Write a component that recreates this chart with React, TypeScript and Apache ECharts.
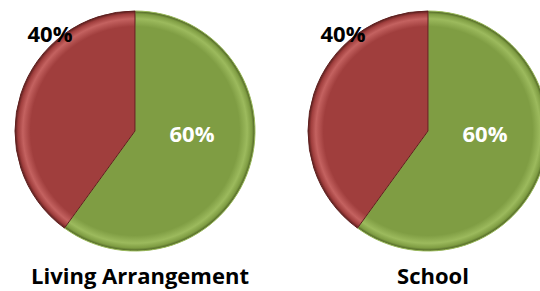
import React, { useEffect, useRef } from "react";
import * as echarts from "echarts";

const categories = ["Yes", "No"];
const livingValues = [60, 40];
const schoolValues = [60, 40];
const chartTitles = ["Living Arrangement", "School"];

const FONT = "'Open Sans', 'Liberation Sans', sans-serif";

function grad(cx: number, cy: number, r: number, base: string, hi: string, dark: string) {
  return new echarts.graphic.RadialGradient(cx, cy, r, [
    { offset: 0, color: base },
    { offset: 0.87, color: base },
    { offset: 0.935, color: hi },
    { offset: 0.975, color: base },
    { offset: 1, color: dark },
  ], true);
}

export default function App() {
  const ref = useRef<HTMLDivElement>(null);
  useEffect(() => {
    document.body.style.margin = "0";
    const chart = echarts.init(ref.current!, undefined, { renderer: "svg" });
    const R = 120;
    const centers = [
      [135, 131],
      [428, 131],
    ];
    const valuesList = [livingValues, schoolValues];
    const series = centers.map((c, si) => ({
      type: "pie",
      center: c,
      radius: [0, R],
      startAngle: 90,
      clockwise: true,
      silent: true,
      avoidLabelOverlap: false,
      labelLine: { show: false },
      labelLayout: (p: any) =>
        p.dataIndex === 1
          ? { x: c[0] - 85, y: 33, align: "center", verticalAlign: "middle", hideOverlap: false }
          : { x: c[0] + 57, y: c[1] + 2, align: "center", verticalAlign: "middle", hideOverlap: false },
      data: valuesList[si].map((v, i) => ({
        name: categories[i],
        value: v,
        itemStyle: {
          color:
            i === 0
              ? grad(c[0], c[1], R, "#7F9D43", "#9CBA5D", "#4A5E22")
              : grad(c[0], c[1], R, "#A03E3D", "#C46260", "#5A1E1D"),
          borderColor: i === 0 ? "#9ABA5A" : "#5E1F1E",
          borderWidth: 1,
        },
        label: {
          show: true,
          position: "inside",
          formatter: "{d}%",
          color: i === 0 ? "#FFFFFF" : "#000000",
          fontFamily: FONT,
          fontWeight: "bold",
          fontSize: 22,
        },
      })),
    }));
    chart.setOption({
      animation: false,
      title: chartTitles.map((t, i) => ({
        text: t,
        left: centers[i][0],
        top: 259,
        textAlign: "center",
        textStyle: { fontFamily: FONT, fontWeight: "bold", fontSize: 22, color: "#000" },
      })),
      series,
    });
    return () => chart.dispose();
  }, []);
  return <div ref={ref} style={{ width: 540, height: 291 }} />;
}
